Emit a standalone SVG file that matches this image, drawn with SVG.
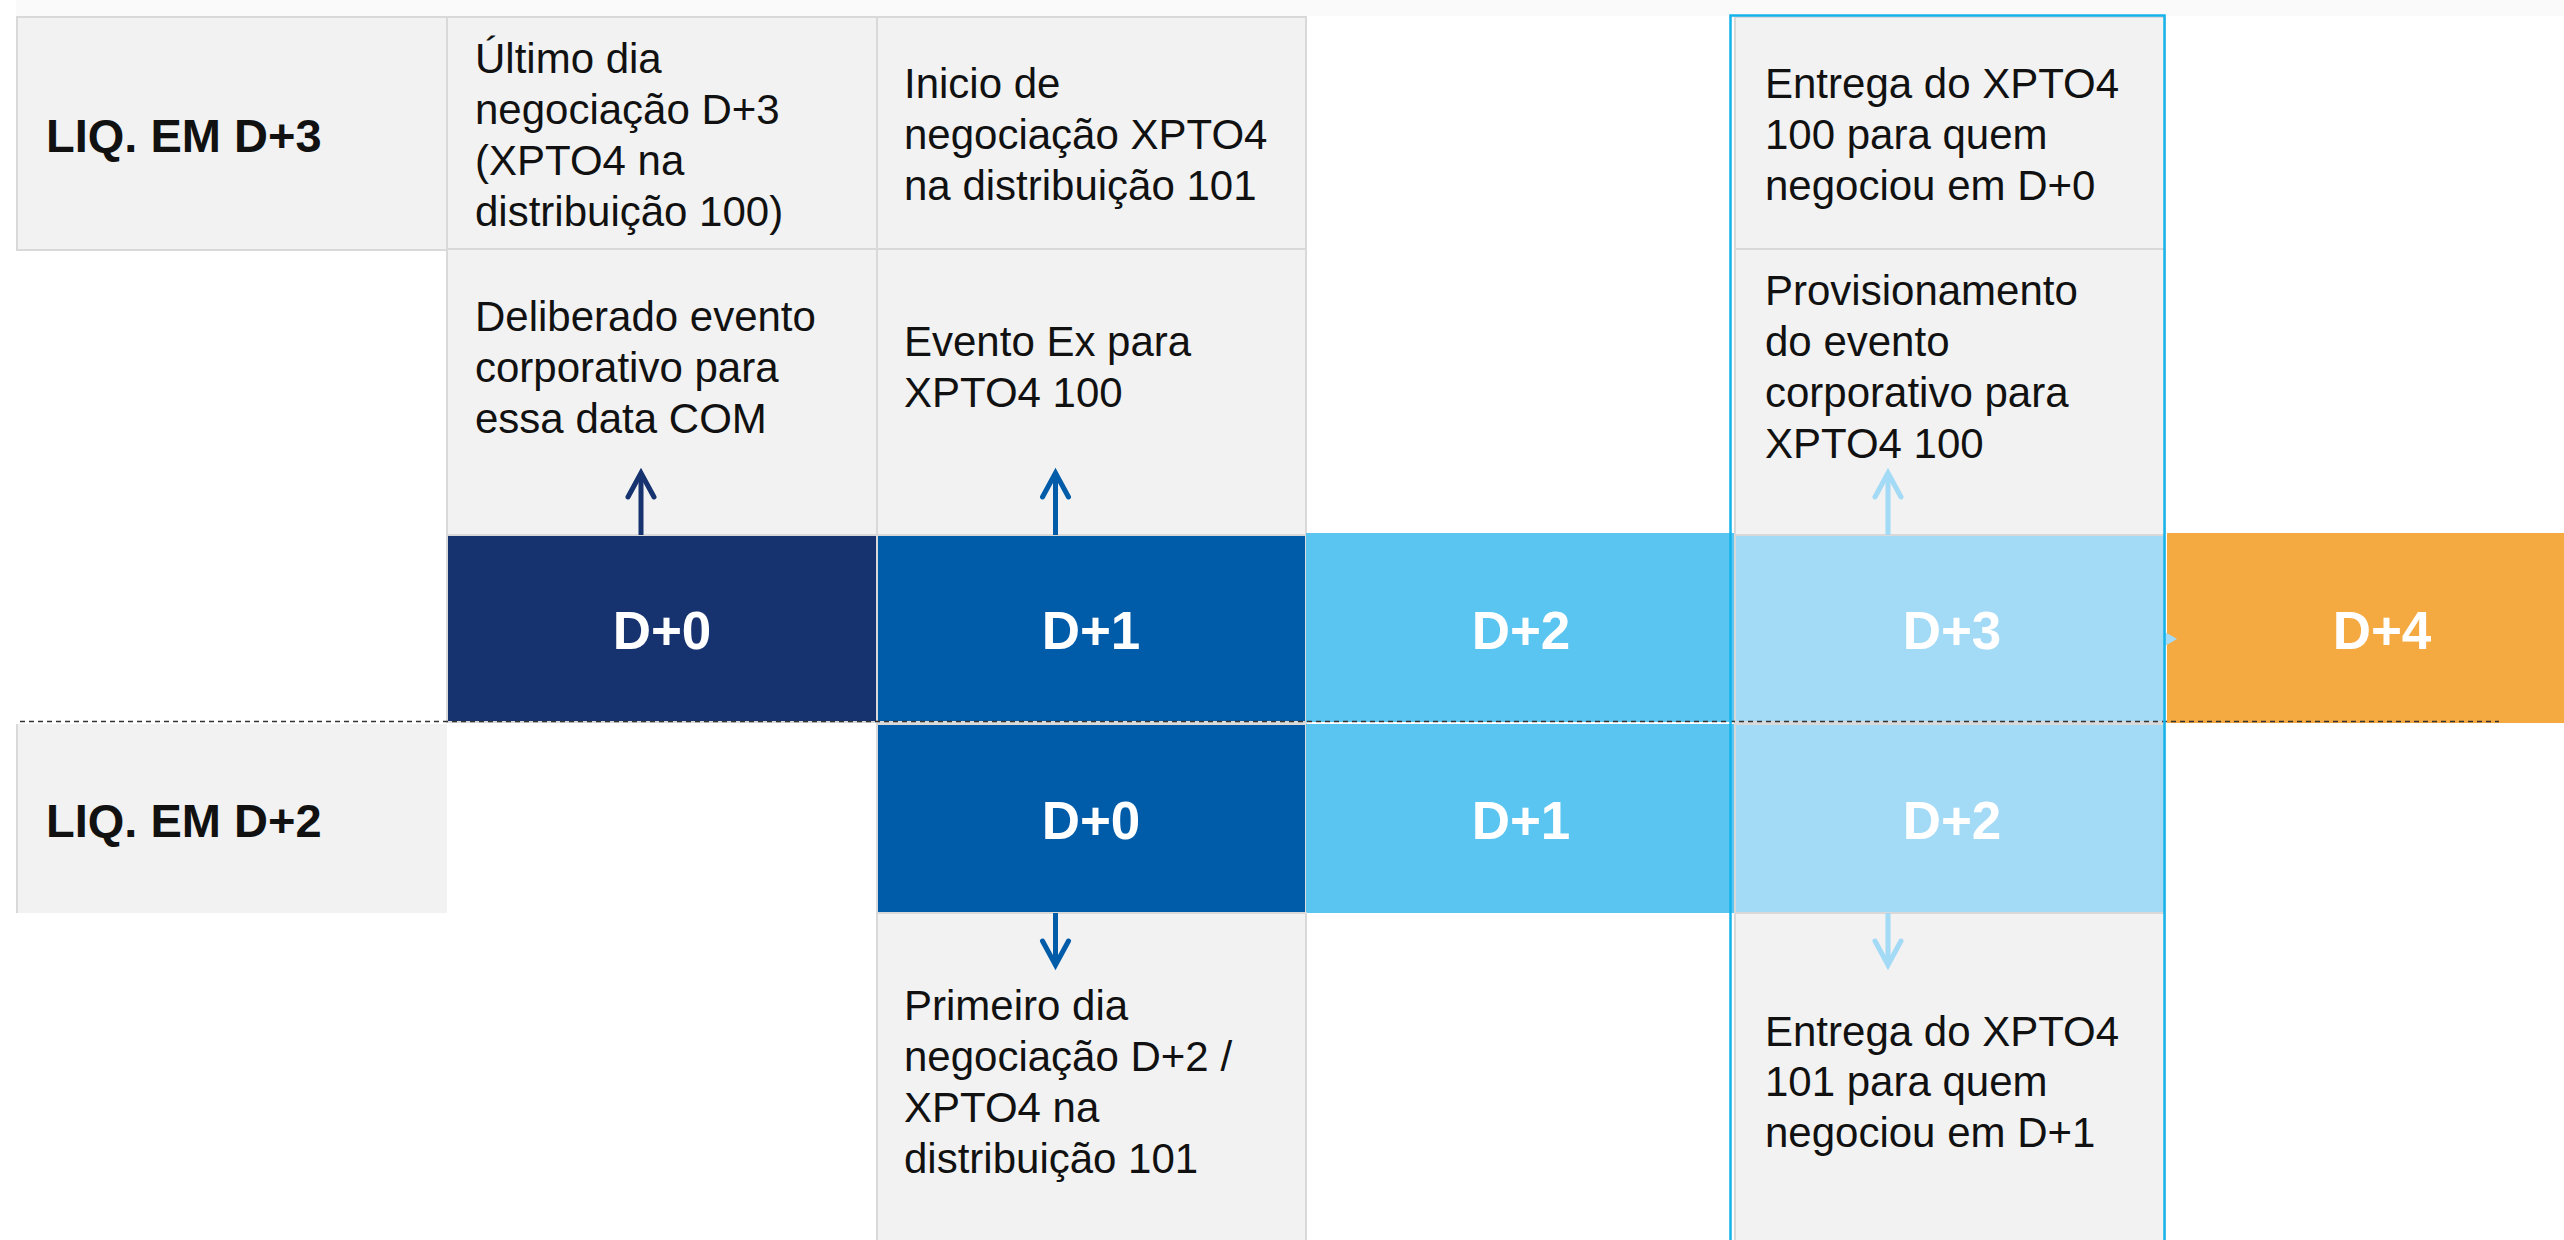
<svg xmlns="http://www.w3.org/2000/svg" width="2564" height="1240" viewBox="0 0 2564 1240">
  <style>
    .cell { fill: #f2f2f2; stroke: #d9d9d9; stroke-width: 2; }
    .body { font-family: "Liberation Sans", Arial, sans-serif; font-size: 42px; fill: #111111; }
    .lbl { font-family: "Liberation Sans", Arial, sans-serif; font-size: 47px; font-weight: bold; fill: #111111; }
    .day { font-family: "Liberation Sans", Arial, sans-serif; font-size: 53px; font-weight: bold; fill: #ffffff; text-anchor: middle; }
    .bar { stroke: #d9d9d9; stroke-width: 2; }
    .c0 { fill: #163370; }
    .c1 { fill: #005ca9; }
    .c2 { fill: #5bc5f1; }
    .c3 { fill: #a3daf6; }
    .c4 { fill: #f5a941; }
    .arr { fill: none; stroke-width: 5; }
  </style>
  <defs>
    <marker id="mNavy" markerUnits="userSpaceOnUse" orient="auto" refX="0" refY="0" markerWidth="40" markerHeight="40" viewBox="-30 -20 40 40" overflow="visible">
      <path d="M-24,-13 L0,0 L-24,13" fill="none" stroke="#163370" stroke-width="5" stroke-linecap="round" stroke-linejoin="miter"/>
    </marker>
    <marker id="mBlue" markerUnits="userSpaceOnUse" orient="auto" refX="0" refY="0" markerWidth="40" markerHeight="40" viewBox="-30 -20 40 40" overflow="visible">
      <path d="M-24,-13 L0,0 L-24,13" fill="none" stroke="#005ca9" stroke-width="5" stroke-linecap="round" stroke-linejoin="miter"/>
    </marker>
    <marker id="mLight" markerUnits="userSpaceOnUse" orient="auto" refX="0" refY="0" markerWidth="40" markerHeight="40" viewBox="-30 -20 40 40" overflow="visible">
      <path d="M-24,-13 L0,0 L-24,13" fill="none" stroke="#a3daf6" stroke-width="5" stroke-linecap="round" stroke-linejoin="miter"/>
    </marker>
  </defs>

  <rect x="16" y="0" width="2548" height="16" fill="#fafafa"/>

  <g id="label-liq-d3">
    <rect class="cell" x="17" y="17" width="430" height="233"/>
    <text class="lbl" x="46" y="152">LIQ. EM D+3</text>
  </g>
  <g id="cell-ultimo-dia">
    <rect class="cell" x="447" y="17" width="430" height="232"/>
    <text class="body"><tspan x="475" y="73">Último dia</tspan><tspan x="475" y="124">negociação D+3</tspan><tspan x="475" y="175">(XPTO4 na</tspan><tspan x="475" y="226">distribuição 100)</tspan></text>
  </g>
  <g id="cell-deliberado">
    <rect class="cell" x="447" y="249" width="430" height="286"/>
    <text class="body"><tspan x="475" y="331">Deliberado evento</tspan><tspan x="475" y="382">corporativo para</tspan><tspan x="475" y="433">essa data COM</tspan></text>
  </g>
  <g id="cell-inicio">
    <rect class="cell" x="877" y="17" width="429" height="232"/>
    <text class="body"><tspan x="904" y="98">Inicio de</tspan><tspan x="904" y="149">negociação XPTO4</tspan><tspan x="904" y="200">na distribuição 101</tspan></text>
  </g>
  <g id="cell-evento-ex">
    <rect class="cell" x="877" y="249" width="429" height="286"/>
    <text class="body"><tspan x="904" y="356">Evento Ex para</tspan><tspan x="904" y="407">XPTO4 100</tspan></text>
  </g>
  <g id="cell-entrega-100">
    <rect class="cell" x="1735" y="17" width="430" height="232"/>
    <text class="body"><tspan x="1765" y="98">Entrega do XPTO4</tspan><tspan x="1765" y="149">100 para quem</tspan><tspan x="1765" y="200">negociou em D+0</tspan></text>
  </g>
  <g id="cell-provisionamento">
    <rect class="cell" x="1735" y="249" width="430" height="286"/>
    <text class="body"><tspan x="1765" y="305">Provisionamento</tspan><tspan x="1765" y="356">do evento</tspan><tspan x="1765" y="407">corporativo para</tspan><tspan x="1765" y="458">XPTO4 100</tspan></text>
  </g>

  <g id="top-d0">
    <rect class="bar c0" x="447" y="535" width="430" height="187"/>
    <text class="day" x="662" y="649">D+0</text>
  </g>
  <g id="top-d1">
    <rect class="bar c1" x="877" y="535" width="429" height="187"/>
    <text class="day" x="1091" y="649">D+1</text>
  </g>
  <g id="top-d2">
    <rect class="c2" x="1306" y="533" width="428" height="189"/>
    <text class="day" x="1521" y="649">D+2</text>
  </g>
  <g id="top-d4">
    <rect class="c4" x="2167" y="533" width="397" height="190"/>
    <text class="day" x="2382" y="649">D+4</text>
  </g>
  <g id="top-d3">
    <rect class="bar c3" x="1735" y="535" width="430" height="187"/>
    <polygon class="c3" points="2165,632 2177,639 2165,646"/>
    <text class="day" x="1952" y="649">D+3</text>
  </g>

  <g id="label-liq-d2">
    <rect x="17" y="724" width="430" height="189" fill="#f2f2f2"/>
    <line x1="17" y1="724" x2="17" y2="913" stroke="#d9d9d9" stroke-width="2"/>
    <text class="lbl" x="46" y="837">LIQ. EM D+2</text>
  </g>
  <g id="bottom-d0">
    <rect class="bar c1" x="877" y="724" width="429" height="189"/>
    <text class="day" x="1091" y="839">D+0</text>
  </g>
  <g id="bottom-d1">
    <rect class="c2" x="1306" y="724" width="428" height="189"/>
    <text class="day" x="1521" y="839">D+1</text>
  </g>
  <g id="bottom-d2">
    <rect class="bar c3" x="1735" y="724" width="430" height="189"/>
    <text class="day" x="1952" y="839">D+2</text>
  </g>

  <g id="cell-primeiro-dia">
    <rect class="cell" x="877" y="913" width="429" height="340"/>
    <text class="body"><tspan x="904" y="1020">Primeiro dia</tspan><tspan x="904" y="1071">negociação D+2 /</tspan><tspan x="904" y="1122">XPTO4 na</tspan><tspan x="904" y="1173">distribuição 101</tspan></text>
  </g>
  <g id="cell-entrega-101">
    <rect class="cell" x="1735" y="913" width="430" height="340"/>
    <text class="body"><tspan x="1765" y="1046">Entrega do XPTO4</tspan><tspan x="1765" y="1096">101 para quem</tspan><tspan x="1765" y="1147">negociou em D+1</tspan></text>
  </g>

  <g id="separator">
    <line x1="20" y1="721.5" x2="2499" y2="721.5" stroke="#333333" stroke-width="1.5" stroke-dasharray="5 4"/>
  </g>

  <g id="highlight-d3">
    <rect x="1730.5" y="15.5" width="434" height="1240" fill="none" stroke="#14b4ea" stroke-width="2.5"/>
  </g>

  <g id="connectors">
    <line class="arr" x1="641" y1="535" x2="641" y2="473" stroke="#163370" marker-end="url(#mNavy)"/>
    <line class="arr" x1="1055.5" y1="535" x2="1055.5" y2="473" stroke="#005ca9" marker-end="url(#mBlue)"/>
    <line class="arr" x1="1888" y1="535" x2="1888" y2="473" stroke="#a3daf6" marker-end="url(#mLight)"/>
    <line class="arr" x1="1055.5" y1="913" x2="1055.5" y2="965" stroke="#005ca9" marker-end="url(#mBlue)"/>
    <line class="arr" x1="1888" y1="913" x2="1888" y2="965" stroke="#a3daf6" marker-end="url(#mLight)"/>
  </g>
</svg>
